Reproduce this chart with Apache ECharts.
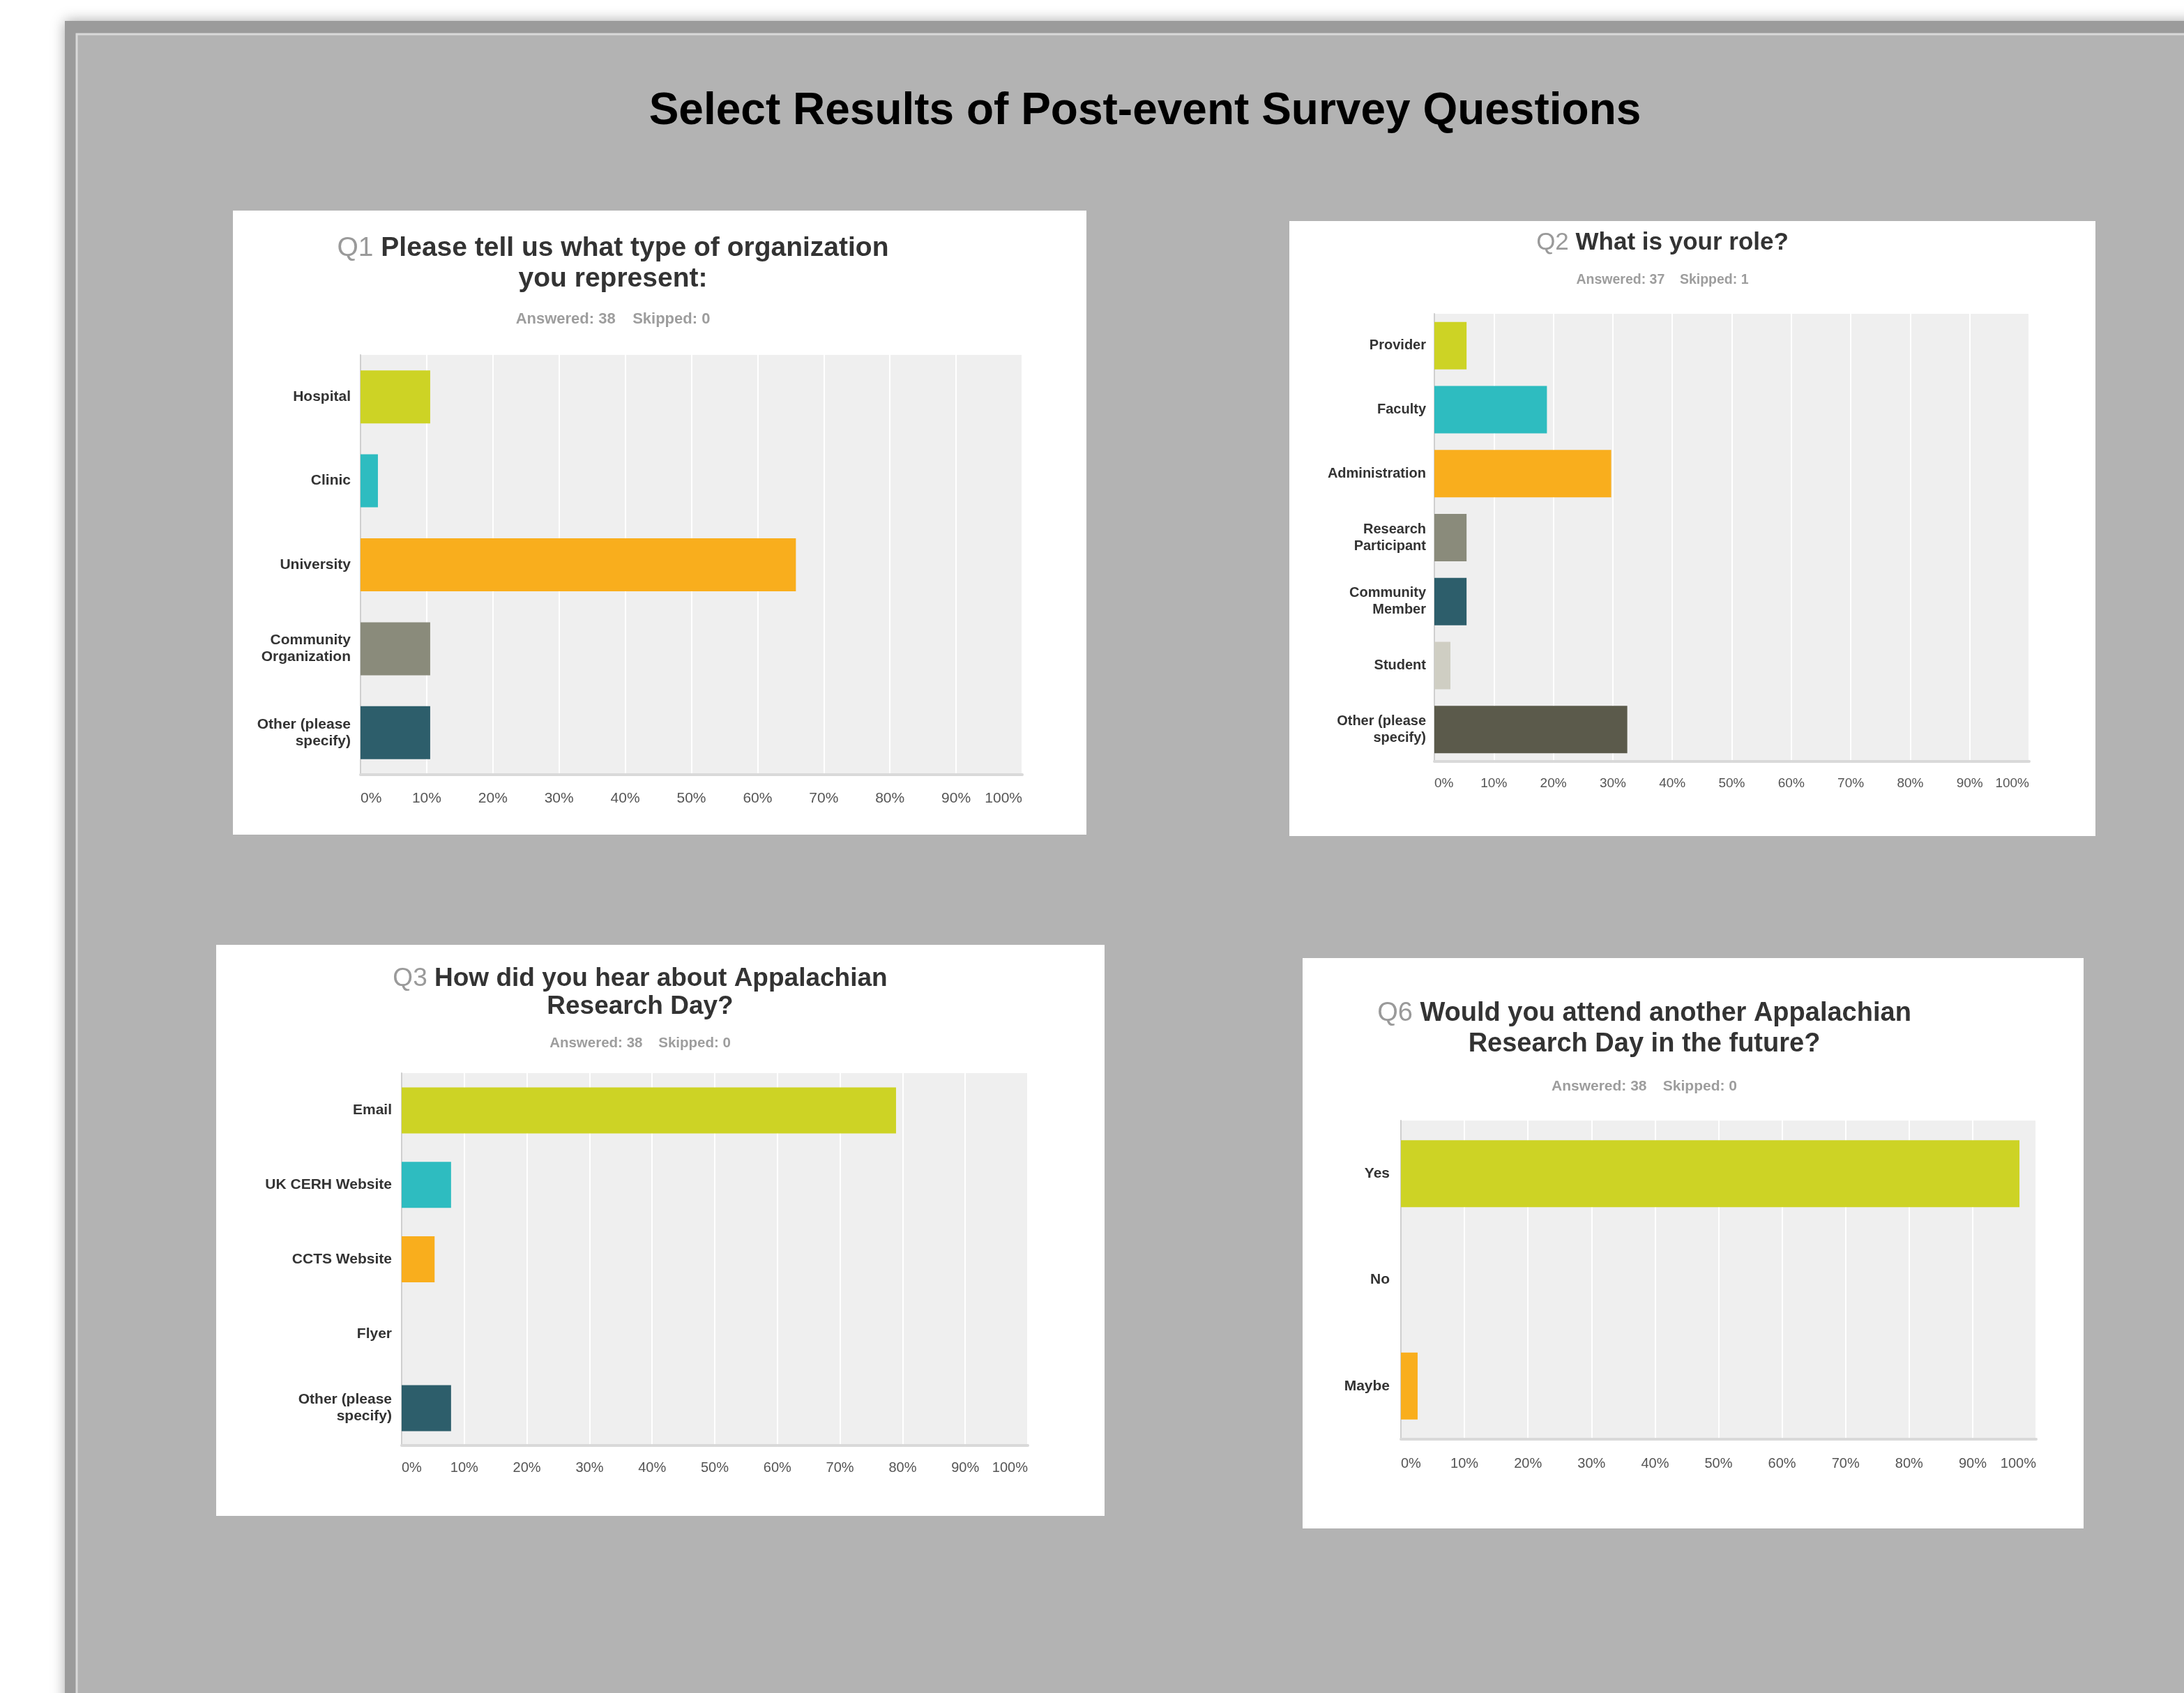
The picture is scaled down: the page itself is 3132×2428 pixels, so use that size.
<!DOCTYPE html>
<html>
<head>
<meta charset="utf-8">
<script src="https://cdn.jsdelivr.net/npm/echarts@6/dist/echarts.min.js"></script>
<style>
html,body{margin:0;padding:0;background:#ffffff;}
#c{width:3132px;height:2428px;}
</style>
</head>
<body>
<div id="c"></div>
<script>
// ---------- data ----------
const mainTitle = 'Select Results of Post-event Survey Questions';
const xTicks = ['0%','10%','20%','30%','40%','50%','60%','70%','80%','90%','100%'];

const q1Categories = ['Hospital','Clinic','University','Community\nOrganization','Other (please\nspecify)'];
const q1Values = [10.53, 2.63, 65.79, 10.53, 10.53];
const q1Answered = 38, q1Skipped = 0;

const q2Categories = ['Provider','Faculty','Administration','Research\nParticipant','Community\nMember','Student','Other (please\nspecify)'];
const q2Values = [5.41, 18.92, 29.73, 5.41, 5.41, 2.70, 32.43];
const q2Answered = 37, q2Skipped = 1;

const q3Categories = ['Email','UK CERH Website','CCTS Website','Flyer','Other (please\nspecify)'];
const q3Values = [78.95, 7.89, 5.26, 0, 7.89];
const q3Answered = 38, q3Skipped = 0;

const q6Categories = ['Yes','No','Maybe'];
const q6Values = [97.37, 0, 2.63];
const q6Answered = 38, q6Skipped = 0;

// ---------- styles ----------
const FONT = 'Liberation Sans, Arial, Helvetica, sans-serif';
const palette5 = ['#cdd325','#2ebcc0','#f9ae1d','#8a8b7b','#2d5e6b'];
const palette7 = ['#cdd325','#2ebcc0','#f9ae1d','#8a8b7b','#2d5e6b','#cfcec3','#5b5a4b'];
const palette3 = ['#cdd325','#2ebcc0','#f9ae1d'];

const panels = [
  {box:[334,302,1224,895], grid:{left:517,top:509,width:949,height:602}, cats:q1Categories, vals:q1Values, colors:palette5, barW:76,
   catSize:21, tickSize:21, labelMargin:14, tickMargin:24, titleSize:39, subSize:22,
   q:'Q1', l1:'Please tell us what type of organization', l2:'you represent:', cx:879, y1:356, y2:400, ys:458, ans:q1Answered, sk:q1Skipped},
  {box:[1849,317,1156,882], grid:{left:2057,top:450,width:853,height:642}, cats:q2Categories, vals:q2Values, colors:palette7, barW:68,
   catSize:20, tickSize:19, labelMargin:12, tickMargin:22, titleSize:35, subSize:19.5,
   q:'Q2', l1:'What is your role?', l2:null, cx:2384, y1:348, y2:null, ys:402, ans:q2Answered, sk:q2Skipped},
  {box:[310,1355,1274,819], grid:{left:576,top:1539,width:898,height:534}, cats:q3Categories, vals:q3Values, colors:palette5, barW:66,
   catSize:21, tickSize:20, labelMargin:14, tickMargin:22, titleSize:37, subSize:20.5,
   q:'Q3', l1:'How did you hear about Appalachian', l2:'Research Day?', cx:918, y1:1404, y2:1444, ys:1496, ans:q3Answered, sk:q3Skipped},
  {box:[1868,1374,1120,818], grid:{left:2009,top:1607,width:911,height:457}, cats:q6Categories, vals:q6Values, colors:palette3, barW:96,
   catSize:21, tickSize:20, labelMargin:16, tickMargin:25, titleSize:38, subSize:21,
   q:'Q6', l1:'Would you attend another Appalachian', l2:'Research Day in the future?', cx:2358, y1:1454, y2:1498, ys:1558, ans:q6Answered, sk:q6Skipped}
];

const graphics = [
  // outer shadowed frame
  {type:'rect', shape:{x:93,y:30,width:3200,height:2600}, style:{fill:'#9b9b9b', shadowBlur:18, shadowColor:'rgba(0,0,0,0.35)'}, z:-10},
  {type:'rect', shape:{x:110,y:49,width:3200,height:2600}, style:{fill:'#b3b3b3', stroke:'#d9d9d9', lineWidth:3}, z:-9},
  {type:'text', x:1642, y:160, style:{text:mainTitle, font:'bold 64px ' + FONT, fill:'#000000', textAlign:'center', textVerticalAlign:'middle'}, z:5}
];

const grids = [], xAxes = [], yAxes = [], series = [];
panels.forEach((p, i) => {
  graphics.push({type:'rect', shape:{x:p.box[0],y:p.box[1],width:p.box[2],height:p.box[3]}, style:{fill:'#ffffff'}, z:-5});
  graphics.push({type:'text', x:p.cx, y:p.y1, z:5, style:{
    text:'{q|' + p.q + ' }{t|' + p.l1 + '}', textAlign:'center', textVerticalAlign:'middle',
    rich:{ q:{font:p.titleSize + 'px ' + FONT, fill:'#9a9a9a'}, t:{font:'bold ' + p.titleSize + 'px ' + FONT, fill:'#333333'} }
  }});
  if (p.l2) {
    graphics.push({type:'text', x:p.cx, y:p.y2, z:5, style:{text:p.l2, font:'bold ' + p.titleSize + 'px ' + FONT, fill:'#333333', textAlign:'center', textVerticalAlign:'middle'}});
  }
  graphics.push({type:'text', x:p.cx, y:p.ys, z:5, style:{text:'Answered: ' + p.ans + '    Skipped: ' + p.sk, font:'bold ' + p.subSize + 'px ' + FONT, fill:'#9d9d9d', textAlign:'center', textVerticalAlign:'middle'}});

  grids.push(Object.assign({show:true, backgroundColor:'#efefef', borderWidth:0, containLabel:false}, p.grid));
  xAxes.push({
    type:'value', gridIndex:i, min:0, max:100, interval:10,
    axisLine:{show:true, lineStyle:{color:'#d9d9d9', width:4}},
    axisTick:{show:false},
    splitLine:{show:true, lineStyle:{color:'#ffffff', width:2}},
    axisLabel:{formatter:(v)=>xTicks[Math.round(v/10)], color:'#555555', fontSize:p.tickSize, fontFamily:FONT, margin:p.tickMargin, alignMinLabel:'left', alignMaxLabel:'right'}
  });
  yAxes.push({
    type:'category', gridIndex:i, inverse:true, data:p.cats,
    axisLine:{show:true, lineStyle:{color:'#cfcfcf', width:2}},
    axisTick:{show:false},
    splitLine:{show:false},
    axisLabel:{color:'#333333', fontSize:p.catSize, fontWeight:'bold', fontFamily:FONT, margin:p.labelMargin, lineHeight:24, align:'right'}
  });
  series.push({
    type:'bar', xAxisIndex:i, yAxisIndex:i, barWidth:p.barW, silent:true,
    data:p.vals.map((v, k) => ({value:v, itemStyle:{color:p.colors[k]}})),
    z:3
  });
});

const chart = echarts.init(document.getElementById('c'), null, {renderer:'canvas'});
chart.setOption({
  animation:false,
  backgroundColor:'#ffffff',
  graphic:graphics,
  grid:grids,
  xAxis:xAxes,
  yAxis:yAxes,
  series:series
});
</script>
</body>
</html>
